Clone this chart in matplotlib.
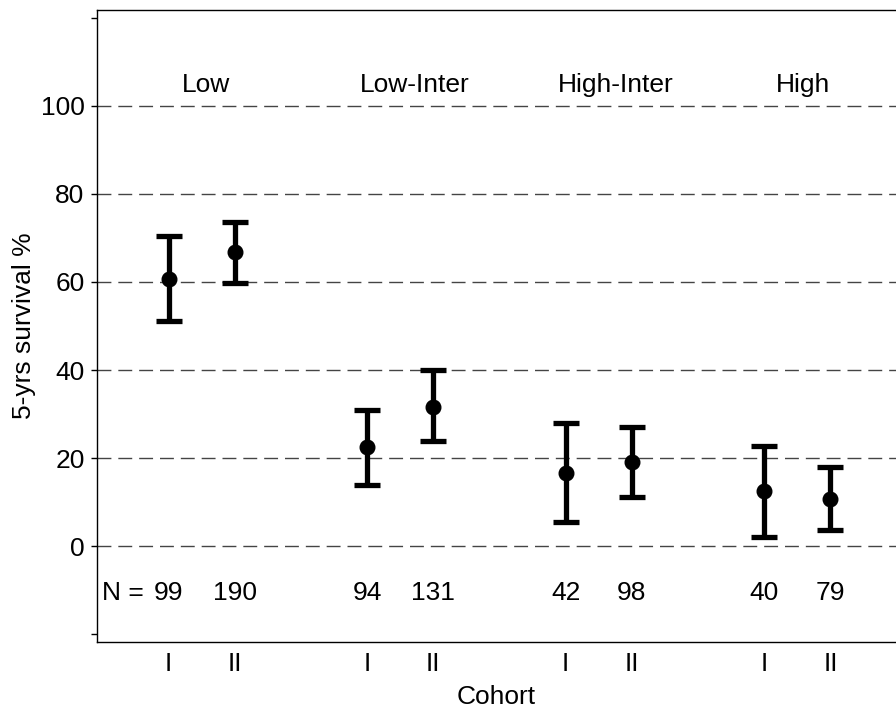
import numpy as np
import matplotlib
matplotlib.use("Agg")
import matplotlib.pyplot as plt

plt.rcParams['font.family'] = ['Liberation Sans', 'DejaVu Sans']

# cohort positions (I, II per risk group)
x_pos = [1, 2, 4, 5, 7, 8, 10, 11]
cohort_labels = ["I", "II", "I", "II", "I", "II", "I", "II"]
survival = [60.7, 66.7, 22.5, 31.7, 16.6, 19.1, 12.4, 10.7]
ci_low = [51.1, 59.8, 13.9, 23.8, 5.4, 11.2, 2.1, 3.6]
ci_high = [70.4, 73.6, 30.8, 39.9, 27.9, 27.0, 22.8, 17.9]
n_counts = [99, 190, 94, 131, 42, 98, 40, 79]
groups = ["Low", "Low-Inter", "High-Inter", "High"]
group_x = [1.57, 4.72, 7.76, 10.59]

fs = 19

fig = plt.figure(figsize=(8.96, 7.09), dpi=100)
ax = fig.add_axes([0.1083, 0.0945, 0.8917, 0.8914])

survival = np.array(survival)
yerr = np.array([survival - np.array(ci_low), np.array(ci_high) - survival])

for yv in range(0, 101, 20):
    ax.axhline(yv, color="#444444", lw=1.0, dashes=(10, 5), zorder=1)

ax.errorbar(x_pos, survival, yerr=yerr, fmt="o", color="black", ms=10.5,
            elinewidth=3.8, capsize=9.5, capthick=3.8, zorder=3)

for gx, g in zip(group_x, groups):
    ax.text(gx, 104.8, g, ha="center", va="center", fontsize=fs)

ax.text(0.0, -10.7, "N =", ha="left", va="center", fontsize=fs)
for xv, n in zip(x_pos, n_counts):
    ax.text(xv, -10.7, str(n), ha="center", va="center", fontsize=fs)

ax.set_xlim(-0.08, 11.99)
ax.set_ylim(-21.8, 121.8)
ax.set_yticks([-20, 0, 20, 40, 60, 80, 100, 120])
ax.set_yticklabels(["", "0", "20", "40", "60", "80", "100", ""])
ax.set_xticks(x_pos)
ax.set_xticklabels(cohort_labels)
ax.tick_params(axis="y", length=4, width=1, pad=5, labelsize=fs)
ax.tick_params(axis="x", length=0, pad=7, labelsize=fs)
ax.spines["right"].set_visible(False)
for s in ["left", "top", "bottom"]:
    ax.spines[s].set_linewidth(1.0)

ax.set_xlabel("Cohort", fontsize=fs, labelpad=7)
ax.set_ylabel("5-yrs survival %", fontsize=fs, labelpad=3)

fig.savefig("out.png", dpi=100)
